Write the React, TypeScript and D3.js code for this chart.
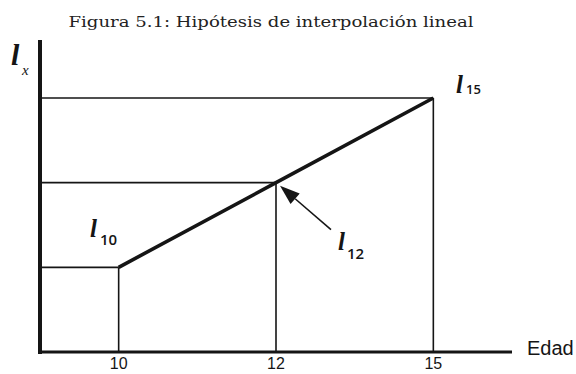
import React from "react";
import * as d3 from "d3";

// Ages shown on the horizontal axis and the survivor values l_x at each age (schematic units)
const ages = ["10", "12", "15"];
const lxValues = [1, 2, 3];
const pointLabels = ["10", "12", "15"];
const title = "Figura 5.1: Hipótesis de interpolación lineal";
const xAxisLabel = "Edad";

const W = 576;
const H = 374;
const axisLeft = 40;
const axisRight = 512;
const axisBottom = 352;
const axisTop = 40;

export default function App() {
  const x = d3.scalePoint<string>().domain(ages).range([axisLeft, axisRight]).padding(0.5);
  const y = d3.scaleLinear().domain([0, 3]).range([axisBottom, 98]);

  const pts = ages.map((a, i) => [x(a) as number, y(lxValues[i])] as [number, number]);
  const line = d3.line()(pts) as string;

  // arrow pointing at the interpolated value l_12
  const tip: [number, number] = [pts[1][0] + 4, pts[1][1] + 3];
  const tail: [number, number] = [tip[0] + 51, tip[1] + 44];
  const ang = Math.atan2(tail[1] - tip[1], tail[0] - tip[0]);
  const headLen = 20;
  const headHalf = 7;
  const bx = tip[0] + headLen * Math.cos(ang);
  const by = tip[1] + headLen * Math.sin(ang);
  const head = [
    tip,
    [bx + headHalf * Math.sin(ang), by - headHalf * Math.cos(ang)],
    [bx - headHalf * Math.sin(ang), by + headHalf * Math.cos(ang)],
  ]
    .map((p) => p.join(","))
    .join(" ");

  const ink = "#151515";
  const labelPos: { lx: number; ly: number; sx: number; sy: number; size: number }[] = [
    { lx: 90, ly: 237, sx: 100, sy: 245, size: 15 },
    { lx: 338, ly: 250, sx: 347, sy: 259, size: 15 },
    { lx: 456, ly: 93, sx: 466, sy: 94, size: 13 },
  ];

  return (
    <svg width={W} height={H} style={{ position: "absolute", left: 0, top: 0, background: "#fff" }}>
      <rect width={W} height={H} fill="#fff" />
      <text
        x={271}
        y={27}
        textAnchor="middle"
        fontFamily="'DejaVu Serif', 'Liberation Serif', serif"
        fontSize={15}
        textLength={405}
        lengthAdjust="spacingAndGlyphs"
        fill="#222"
      >
        {title}
      </text>

      {/* guide lines to each point */}
      {pts.map(([px, py], i) => (
        <g key={i} stroke={ink} strokeWidth={1.6}>
          <line x1={axisLeft} x2={px} y1={py} y2={py} />
          <line x1={px} x2={px} y1={py} y2={axisBottom} />
        </g>
      ))}

      {/* interpolation line */}
      <path d={line} fill="none" stroke={ink} strokeWidth={3.6} />

      {/* axes */}
      <line x1={axisLeft} x2={axisLeft} y1={axisTop} y2={axisBottom + 2} stroke={ink} strokeWidth={4} />
      <line x1={axisLeft - 2} x2={axisRight} y1={axisBottom} y2={axisBottom} stroke={ink} strokeWidth={3} />

      {/* tick labels */}
      {ages.map((a) => (
        <text
          key={a}
          x={x(a) as number}
          y={369}
          textAnchor="middle"
          fontFamily="'Liberation Sans', Arial, sans-serif"
          fontSize={16}
          fill={ink}
        >
          {a}
        </text>
      ))}
      <text x={527} y={355} fontFamily="'Liberation Sans', Arial, sans-serif" fontSize={20} fill={ink}>
        {xAxisLabel}
      </text>

      {/* y label l_x */}
      <text x={11} y={65} fontFamily="'Liberation Serif', serif" fontStyle="italic" fontWeight="bold" fontSize={30} fill={ink}>
        l
      </text>
      <text x={22} y={75} fontFamily="'Liberation Serif', serif" fontStyle="italic" fontSize={15} fill={ink}>
        x
      </text>

      {/* point labels */}
      {pointLabels.map((s, i) => {
        const p = labelPos[i];
        return (
          <g key={s} fill={ink}>
            <text x={p.lx} y={p.ly} fontFamily="'Liberation Serif', serif" fontStyle="italic" fontWeight="bold" fontSize={25}>
              l
            </text>
            <text x={p.sx} y={p.sy} fontFamily="'Open Sans', 'Noto Sans', sans-serif" fontSize={p.size} fontWeight={600}>
              {s}
            </text>
          </g>
        );
      })}

      {/* arrow */}
      <line x1={tail[0]} y1={tail[1]} x2={bx} y2={by} stroke={ink} strokeWidth={1.6} />
      <polygon points={head} fill={ink} />
    </svg>
  );
}
